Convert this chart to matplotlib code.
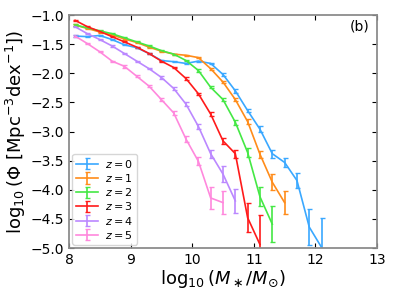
import numpy as np
import matplotlib
matplotlib.use('Agg')
import matplotlib.pyplot as plt

# stellar mass bins (log10 M*/Msun)
mass = [8.1, 8.3, 8.5, 8.7, 8.9, 9.1, 9.3, 9.5, 9.7, 9.9, 10.1,
        10.3, 10.5, 10.7, 10.9, 11.1, 11.3, 11.5, 11.7, 11.9, 12.1]

phi_z0 = [-1.36, -1.37, -1.35, -1.42, -1.51, -1.56, -1.66, -1.78, -1.80, -1.83, -1.79,
          -1.83, -2.02, -2.30, -2.64, -2.96, -3.38, -3.53, -3.84, -4.64, -4.99]
err_z0 = [0.01, 0.01, 0.01, 0.01, 0.01, 0.01, 0.01, 0.01, 0.01, 0.01, 0.01,
          0.01, 0.02, 0.03, 0.03, 0.05, 0.07, 0.08, 0.13, 0.31, 0.5]

phi_z1 = [-1.17, -1.23, -1.29, -1.34, -1.41, -1.47, -1.55, -1.62, -1.67, -1.69, -1.73,
          -1.92, -2.15, -2.45, -2.83, -3.39, -3.87, -4.22]
err_z1 = [0.01, 0.01, 0.01, 0.01, 0.01, 0.01, 0.01, 0.01, 0.01, 0.01, 0.01,
          0.02, 0.02, 0.03, 0.04, 0.06, 0.14, 0.2]

phi_z2 = [-1.17, -1.22, -1.27, -1.32, -1.39, -1.46, -1.53, -1.61, -1.67, -1.78, -1.95,
          -2.24, -2.45, -2.84, -3.36, -4.12, -4.59]
err_z2 = [0.01, 0.01, 0.01, 0.01, 0.01, 0.01, 0.01, 0.01, 0.01, 0.01, 0.02,
          0.02, 0.03, 0.04, 0.07, 0.16, 0.31]

phi_z3 = [-1.09, -1.20, -1.28, -1.37, -1.46, -1.55, -1.66, -1.79, -1.90, -2.09, -2.35,
          -2.70, -3.16, -3.38, -4.48, -4.94]
err_z3 = [0.01, 0.01, 0.01, 0.01, 0.01, 0.01, 0.01, 0.01, 0.01, 0.02, 0.02,
          0.03, 0.05, 0.07, 0.25, 0.5]

phi_z4 = [-1.20, -1.32, -1.42, -1.53, -1.66, -1.79, -1.92, -2.07, -2.26, -2.53, -2.91,
          -3.38, -3.73, -4.19]
err_z4 = [0.01, 0.01, 0.01, 0.01, 0.01, 0.01, 0.01, 0.02, 0.02, 0.03, 0.04,
          0.07, 0.14, 0.2]

phi_z5 = [-1.36, -1.49, -1.63, -1.79, -1.88, -2.05, -2.22, -2.45, -2.68, -3.13, -3.51,
          -4.14, -4.22]
err_z5 = [0.01, 0.01, 0.01, 0.01, 0.02, 0.02, 0.02, 0.03, 0.04, 0.05, 0.07,
          0.19, 0.2]

series = [(phi_z0, err_z0), (phi_z1, err_z1), (phi_z2, err_z2),
          (phi_z3, err_z3), (phi_z4, err_z4), (phi_z5, err_z5)]
colors = ['#3aa8ff', '#ff8c1a', '#44e844', '#ff1a1a', '#bb88ff', '#ff88dd']

fig = plt.figure(figsize=(3.94, 2.96), dpi=100)
ax = fig.add_axes([0.175, 0.162, 0.782, 0.787])

for i, (phi, err) in enumerate(series):
    n = len(phi)
    ax.errorbar(mass[:n], phi, yerr=err, color=colors[i], lw=1.2,
                elinewidth=1.2, capsize=1.8, label='$z=%d$' % i)

ax.set_xlim(8, 13)
ax.set_ylim(-5, -1)
ax.set_yticks(np.arange(-5, -0.9, 0.5))
ax.tick_params(direction='in', top=True, right=True, labelsize=10, length=3.5)
for s in ax.spines.values():
    s.set_color('0.55')
    s.set_linewidth(1.3)

ax.set_xlabel(r'$\log_{10}(M_\ast/M_{\odot})$', fontsize=13, labelpad=1)
ax.set_ylabel(r'$\log_{10}(\Phi\ [\mathrm{Mpc}^{-3}\mathrm{dex}^{-1}])$', fontsize=13, labelpad=2)
ax.text(0.977, 0.95, '(b)', transform=ax.transAxes, ha='right', va='center', fontsize=10)
ax.legend(loc='lower left', fontsize=8, handlelength=2.0, labelspacing=0.2,
          borderaxespad=0.3, handletextpad=0.6, borderpad=0.35)

fig.savefig('out.png', dpi=100)
